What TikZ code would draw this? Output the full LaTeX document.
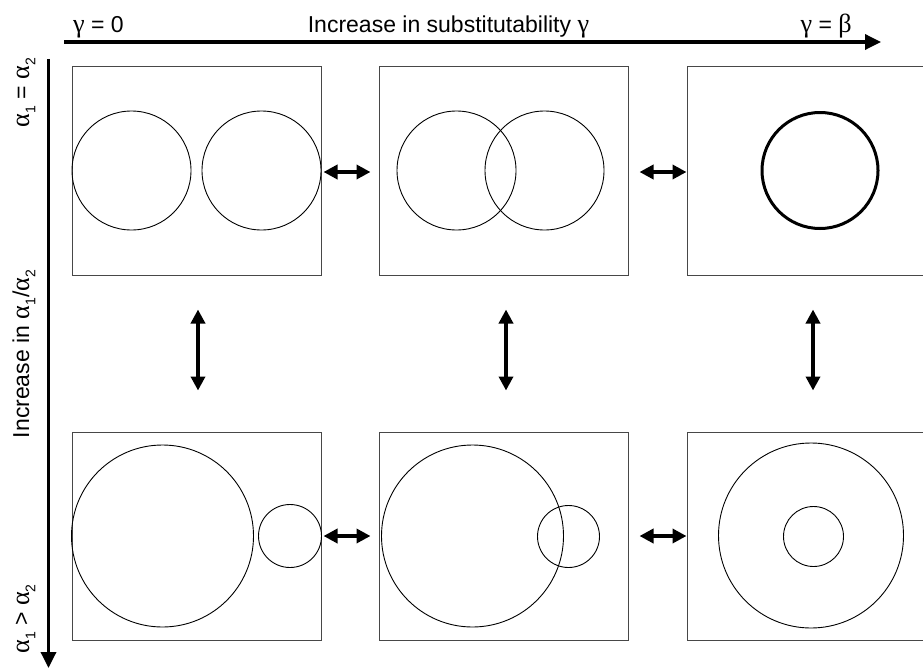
\documentclass[tikz,border=0pt]{standalone}
\usepackage{fontspec}
\setmainfont{Liberation Sans}
\newfontfamily\grkfont[Scale=1.14]{Liberation Serif}
\usetikzlibrary{arrows.meta}
% Greek letter in a serif face, and a lowered small index
\newcommand{\gk}[1]{{\grkfont #1}}
\newcommand{\idx}[1]{\raisebox{-0.28em}{\fontsize{14}{14}\selectfont #1}}

\begin{document}
\begin{tikzpicture}[x=1pt,y=-1pt,
  font=\fontsize{23}{27}\selectfont,
  panel/.style={draw=black!72,line width=1pt,minimum width=249pt,minimum height=208pt,inner sep=0pt},
  bubble/.style={draw=black,line width=0.9pt},
  heavybubble/.style={draw=black,line width=3pt},
  swap/.style={line width=4pt,{Triangle[length=14pt,width=14pt]}-{Triangle[length=14pt,width=14pt]}},
  axis/.style={line width=3.4pt,-{Triangle[length=16pt,width=15pt]}},
  lbl/.style={inner sep=0pt},
  vlbl/.style={inner sep=0pt,rotate=90,anchor=base}]
\useasboundingbox (0,0) rectangle (923,669);

% axes
\coordinate (hx0) at (64,42);
\coordinate (hx1) at (881,42);
\coordinate (vy0) at (48.5,59);
\coordinate (vy1) at (48.5,668);
\draw[axis] (hx0) -- (hx1);
\draw[axis] (vy0) -- (vy1);

% axis labels
\node[lbl,anchor=base west] (g0) at (73,32.5) {\gk{γ} = 0};
\node[lbl,anchor=base] (gmid) at (448.5,32.5) {Increase in substitutability \gk{γ}};
\node[lbl,anchor=base east] (gb) at (852,32.5) {\gk{γ} = \gk{β}};
\node[vlbl] (aeq) at (29,92.5) {\gk{α}\idx{1} = \gk{α}\idx{2}};
\node[vlbl] (amid) at (29,354) {Increase in \gk{α}\idx{1}/\gk{α}\idx{2}};
\node[vlbl] (agt) at (29,619) {\gk{α}\idx{1} > \gk{α}\idx{2}};

% panels
\node[panel] (b11) at (196.5,171) {};
\node[panel] (b12) at (503.5,171) {};
\node[panel] (b13) at (811.5,171) {};
\node[panel] (b21) at (196.5,536) {};
\node[panel] (b22) at (503.5,536) {};
\node[panel] (b23) at (811.5,536) {};

% equal niches
\draw[bubble] (131.5,170.5) circle (59.5);
\draw[bubble] (261.5,170.5) circle (59.5);
\draw[bubble] (456.5,170.5) circle (59.5);
\draw[bubble] (544.5,170.5) circle (59.5);
\draw[heavybubble] (820,170.5) circle (58);

% unequal niches
\draw[bubble] (162.5,536) circle (91);
\draw[bubble] (290,536) circle (31.5);
\draw[bubble] (472.5,536) circle (91);
\draw[bubble] (568.5,536.5) circle (31);
\draw[bubble] (811,535.5) circle (92.5);
\draw[bubble] (813.5,536.5) circle (30);

% transitions between panels
\draw[swap] ([xshift=2pt,yshift=-1pt]b11.east) -- ([xshift=-8pt,yshift=-1pt]b12.west);
\draw[swap] ([xshift=11pt,yshift=-1pt]b12.east) -- ([yshift=-1pt]b13.west);
\draw[swap] ([xshift=2pt]b21.east) -- ([xshift=-8pt]b22.west);
\draw[swap] ([xshift=11pt]b22.east) -- (b23.west);
\draw[swap] ([xshift=1.5pt,yshift=-34pt]b11.south) -- ([xshift=1.5pt,yshift=41pt]b21.north);
\draw[swap] ([xshift=2.5pt,yshift=-34pt]b12.south) -- ([xshift=2.5pt,yshift=41pt]b22.north);
\draw[swap] ([xshift=1.5pt,yshift=-34pt]b13.south) -- ([xshift=1.5pt,yshift=41pt]b23.north);
\end{tikzpicture}
\end{document}
